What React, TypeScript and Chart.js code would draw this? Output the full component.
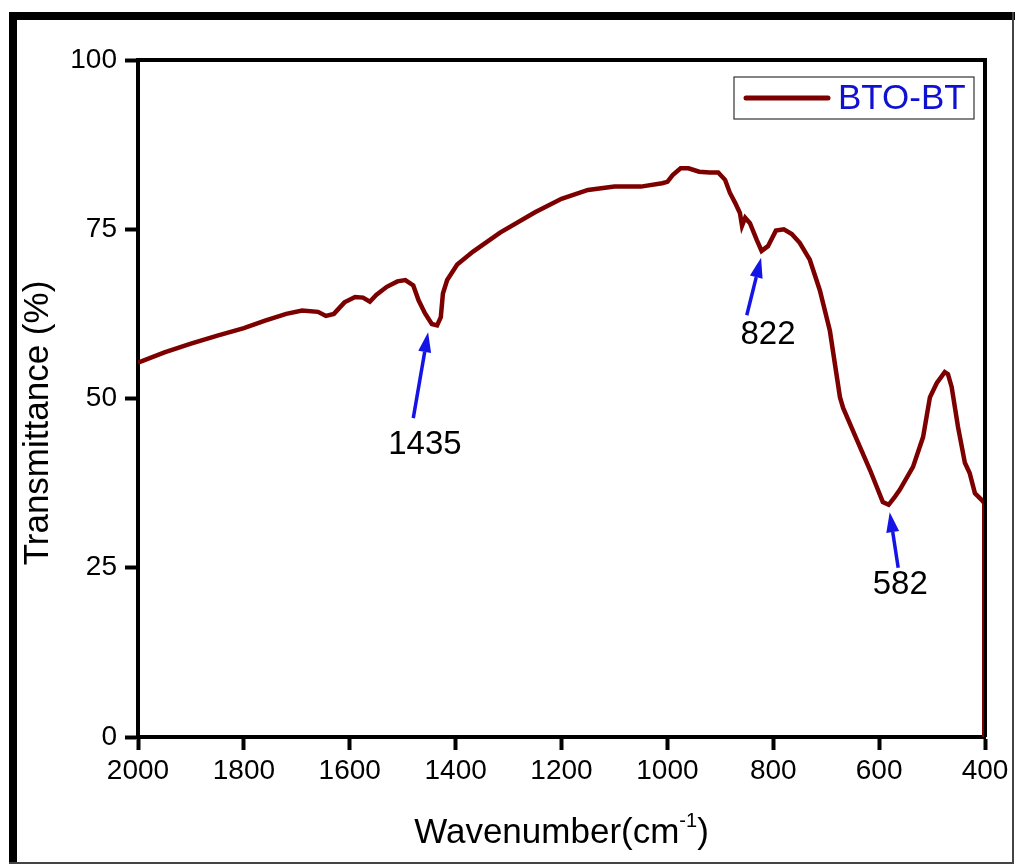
import React, { useEffect, useRef } from "react";
import { Chart, registerables } from "chart.js";

Chart.register(...registerables);

// Spectrum data (wavenumber cm^-1, transmittance %)
const wavenumbers = [
  2000, 1950, 1900, 1850, 1800, 1760, 1720, 1690, 1660, 1645, 1630, 1610, 1590, 1575,
  1562, 1550, 1530, 1510, 1495, 1480, 1470, 1458, 1445, 1435, 1428, 1424, 1416, 1397,
  1367, 1316, 1250, 1200, 1150, 1100, 1050, 1010, 1000, 990, 975, 960, 940, 920, 904, 891,
  882, 872, 863, 859, 853, 844, 831, 822, 810, 795, 780, 765, 750, 731, 712, 693, 674,
  668, 642, 617, 593, 582, 570, 561, 536, 517, 504, 491, 476, 470, 463, 451, 438, 429,
  419, 406, 401, 400,
];
const transmittance = [
  55.3, 56.8, 58.1, 59.3, 60.4, 61.5, 62.5, 63.0, 62.8, 62.2, 62.5, 64.2, 65.0, 64.9,
  64.3, 65.3, 66.5, 67.3, 67.5, 66.7, 64.5, 62.6, 61.0, 60.8, 62.0, 65.5, 67.5, 69.8,
  71.7, 74.5, 77.5, 79.5, 80.8, 81.3, 81.3, 81.8, 82.0, 83.0, 84.0, 84.0, 83.5, 83.4, 83.4, 82.3,
  80.4, 78.9, 77.4, 75.5, 76.7, 75.9, 73.4, 71.8, 72.5, 74.8, 75.0, 74.3, 73.0, 70.5, 66.0, 60.0, 50.2,
  48.6, 43.9, 39.4, 34.7, 34.3, 35.5, 36.5, 39.9, 44.3, 50.2, 52.3, 53.9, 53.6, 51.7, 45.8, 40.5, 39.0,
  36.0, 35.0, 34.5, 0,
];

const xTicks = [2000, 1800, 1600, 1400, 1200, 1000, 800, 600, 400];
const yTicks = [0, 25, 50, 75, 100];

const seriesName = "BTO-BT";
const xTitle = "Wavenumber(cm";
const xTitleSup = "-1";
const yTitle = "Transmittance (%)";

// Peak annotations
const peakLabels = ["1435", "822", "582"];
const peakTextX = [1458, 810, 560];
const peakTextY = [43.1, 59.4, 22.5];
const arrowTailX = [1480, 850, 564];
const arrowTailY = [47.1, 62.3, 25.0];
const arrowTipX = [1452, 823, 580];
const arrowTipY = [59.8, 70.8, 33.2];

const FONT = "'Liberation Sans', Arial, sans-serif";
const LINE_COLOR = "#7d0000";

const decorPlugin = {
  id: "decor",
  afterDraw(chart: any) {
    const ctx = chart.ctx as CanvasRenderingContext2D;
    const ca = chart.chartArea;
    const xs = chart.scales.x;
    const ys = chart.scales.y;
    ctx.save();

    // top and right frame of plot
    ctx.strokeStyle = "#000";
    ctx.lineWidth = 4;
    ctx.beginPath();
    ctx.moveTo(ca.left, ca.top);
    ctx.lineTo(ca.right, ca.top);
    ctx.lineTo(ca.right, ca.bottom);
    ctx.stroke();

    // final vertical drop of the curve next to the right axis
    ctx.strokeStyle = LINE_COLOR;
    ctx.lineWidth = 2;
    ctx.beginPath();
    ctx.moveTo(ca.right - 2, ys.getPixelForValue(transmittance[transmittance.length - 2]));
    ctx.lineTo(ca.right - 2, ca.bottom);
    ctx.stroke();

    // arrows
    ctx.strokeStyle = "#1414e6";
    ctx.fillStyle = "#1414e6";
    for (let i = 0; i < peakLabels.length; i++) {
      const x0 = xs.getPixelForValue(arrowTailX[i]);
      const y0 = ys.getPixelForValue(arrowTailY[i]);
      const x1 = xs.getPixelForValue(arrowTipX[i]);
      const y1 = ys.getPixelForValue(arrowTipY[i]);
      const ang = Math.atan2(y1 - y0, x1 - x0);
      const headLen = 20;
      const headW = 6.5;
      const bx = x1 - headLen * Math.cos(ang);
      const by = y1 - headLen * Math.sin(ang);
      ctx.lineWidth = 3.5;
      ctx.beginPath();
      ctx.moveTo(x0, y0);
      ctx.lineTo(bx, by);
      ctx.stroke();
      ctx.beginPath();
      ctx.moveTo(x1, y1);
      ctx.lineTo(bx + headW * Math.sin(ang), by - headW * Math.cos(ang));
      ctx.lineTo(bx - headW * Math.sin(ang), by + headW * Math.cos(ang));
      ctx.closePath();
      ctx.fill();
    }

    // peak labels
    ctx.fillStyle = "#000";
    ctx.font = `33px ${FONT}`;
    ctx.textAlign = "center";
    ctx.textBaseline = "middle";
    for (let i = 0; i < peakLabels.length; i++) {
      ctx.fillText(peakLabels[i], xs.getPixelForValue(peakTextX[i]), ys.getPixelForValue(peakTextY[i]));
    }

    // legend
    const lx1 = ca.right - 11;
    const lx0 = lx1 - 240;
    const ly0 = ca.top + 17;
    const lh = 42;
    ctx.strokeStyle = "#333";
    ctx.lineWidth = 1.2;
    ctx.strokeRect(lx0, ly0, lx1 - lx0, lh);
    ctx.strokeStyle = LINE_COLOR;
    ctx.lineWidth = 5;
    ctx.lineCap = "round";
    ctx.beginPath();
    ctx.moveTo(lx0 + 12, ly0 + lh / 2);
    ctx.lineTo(lx0 + 94, ly0 + lh / 2);
    ctx.stroke();
    ctx.lineCap = "butt";
    ctx.fillStyle = "#1010d0";
    ctx.font = `35px ${FONT}`;
    ctx.textAlign = "left";
    ctx.textBaseline = "middle";
    ctx.fillText(seriesName, lx0 + 104, ly0 + lh / 2 + 1);

    // x axis title with superscript
    ctx.fillStyle = "#000";
    ctx.textBaseline = "alphabetic";
    ctx.font = `35px ${FONT}`;
    const wMain = ctx.measureText(xTitle).width;
    ctx.font = `20px ${FONT}`;
    const wSup = ctx.measureText(xTitleSup).width;
    ctx.font = `35px ${FONT}`;
    const wClose = ctx.measureText(")").width;
    const total = wMain + wSup + wClose;
    const cx = (ca.left + ca.right) / 2;
    let tx = cx - total / 2;
    const baseY = 843;
    ctx.textAlign = "left";
    ctx.fillText(xTitle, tx, baseY);
    tx += wMain;
    ctx.font = `20px ${FONT}`;
    ctx.fillText(xTitleSup, tx, baseY - 16);
    tx += wSup;
    ctx.font = `35px ${FONT}`;
    ctx.fillText(")", tx, baseY);

    // y axis title
    ctx.save();
    ctx.translate(38, 423);
    ctx.rotate(-Math.PI / 2);
    ctx.textAlign = "center";
    ctx.textBaseline = "middle";
    ctx.font = `35px ${FONT}`;
    ctx.fillText(yTitle, 0, 0);
    ctx.restore();

    // outer frame
    ctx.fillStyle = "#000";
    ctx.fillRect(9, 12, 8, 852);
    ctx.fillRect(9, 12, 1006, 8);
    ctx.fillStyle = "#444";
    ctx.fillRect(1012, 12, 2, 852);
    ctx.fillRect(9, 862, 1005, 2);

    ctx.restore();
  },
};

export default function App() {
  const ref = useRef<HTMLCanvasElement | null>(null);

  useEffect(() => {
    if (!ref.current) return;
    const points = wavenumbers.map((w, i) => ({ x: w, y: transmittance[i] }));
    const chart = new Chart(ref.current, {
      type: "line",
      data: {
        datasets: [
          {
            label: seriesName,
            data: points,
            borderColor: LINE_COLOR,
            borderWidth: 4.5,
            pointRadius: 0,
            tension: 0,
            fill: false,
          },
        ],
      },
      options: {
        animation: false,
        responsive: false,
        layout: { padding: { left: 0, top: 60, right: 30, bottom: 0 } },
        plugins: {
          legend: { display: false },
          tooltip: { enabled: false },
        },
        scales: {
          x: {
            type: "linear",
            reverse: true,
            min: 400,
            max: 2000,
            afterBuildTicks: (scale: any) => {
              scale.ticks = xTicks.map((v) => ({ value: v }));
            },
            afterFit: (scale: any) => {
              scale.height = 128;
            },
            ticks: {
              color: "#000",
              font: { family: FONT, size: 28 },
              padding: 4,
              maxRotation: 0,
              autoSkip: false,
              callback: (v: any) => String(v),
            },
            grid: {
              display: true,
              drawOnChartArea: false,
              drawTicks: true,
              tickLength: 13,
              tickWidth: 4,
              tickColor: "#000",
            },
            border: { display: true, color: "#000", width: 4 },
          },
          y: {
            type: "linear",
            min: 0,
            max: 100,
            afterBuildTicks: (scale: any) => {
              scale.ticks = yTicks.map((v) => ({ value: v }));
            },
            afterFit: (scale: any) => {
              scale.width = 138;
            },
            ticks: {
              color: "#000",
              font: { family: FONT, size: 28 },
              padding: 8,
              autoSkip: false,
              callback: (v: any) => String(v),
            },
            grid: {
              display: true,
              drawOnChartArea: false,
              drawTicks: true,
              tickLength: 13,
              tickWidth: 4,
              tickColor: "#000",
            },
            border: { display: true, color: "#000", width: 4 },
          },
        },
      },
      plugins: [decorPlugin],
    });
    return () => chart.destroy();
  }, []);

  return (
    <div style={{ position: "absolute", left: 0, top: 0, width: 1015, height: 865, background: "#fff" }}>
      <canvas ref={ref} width={1015} height={865} style={{ display: "block" }} />
    </div>
  );
}
